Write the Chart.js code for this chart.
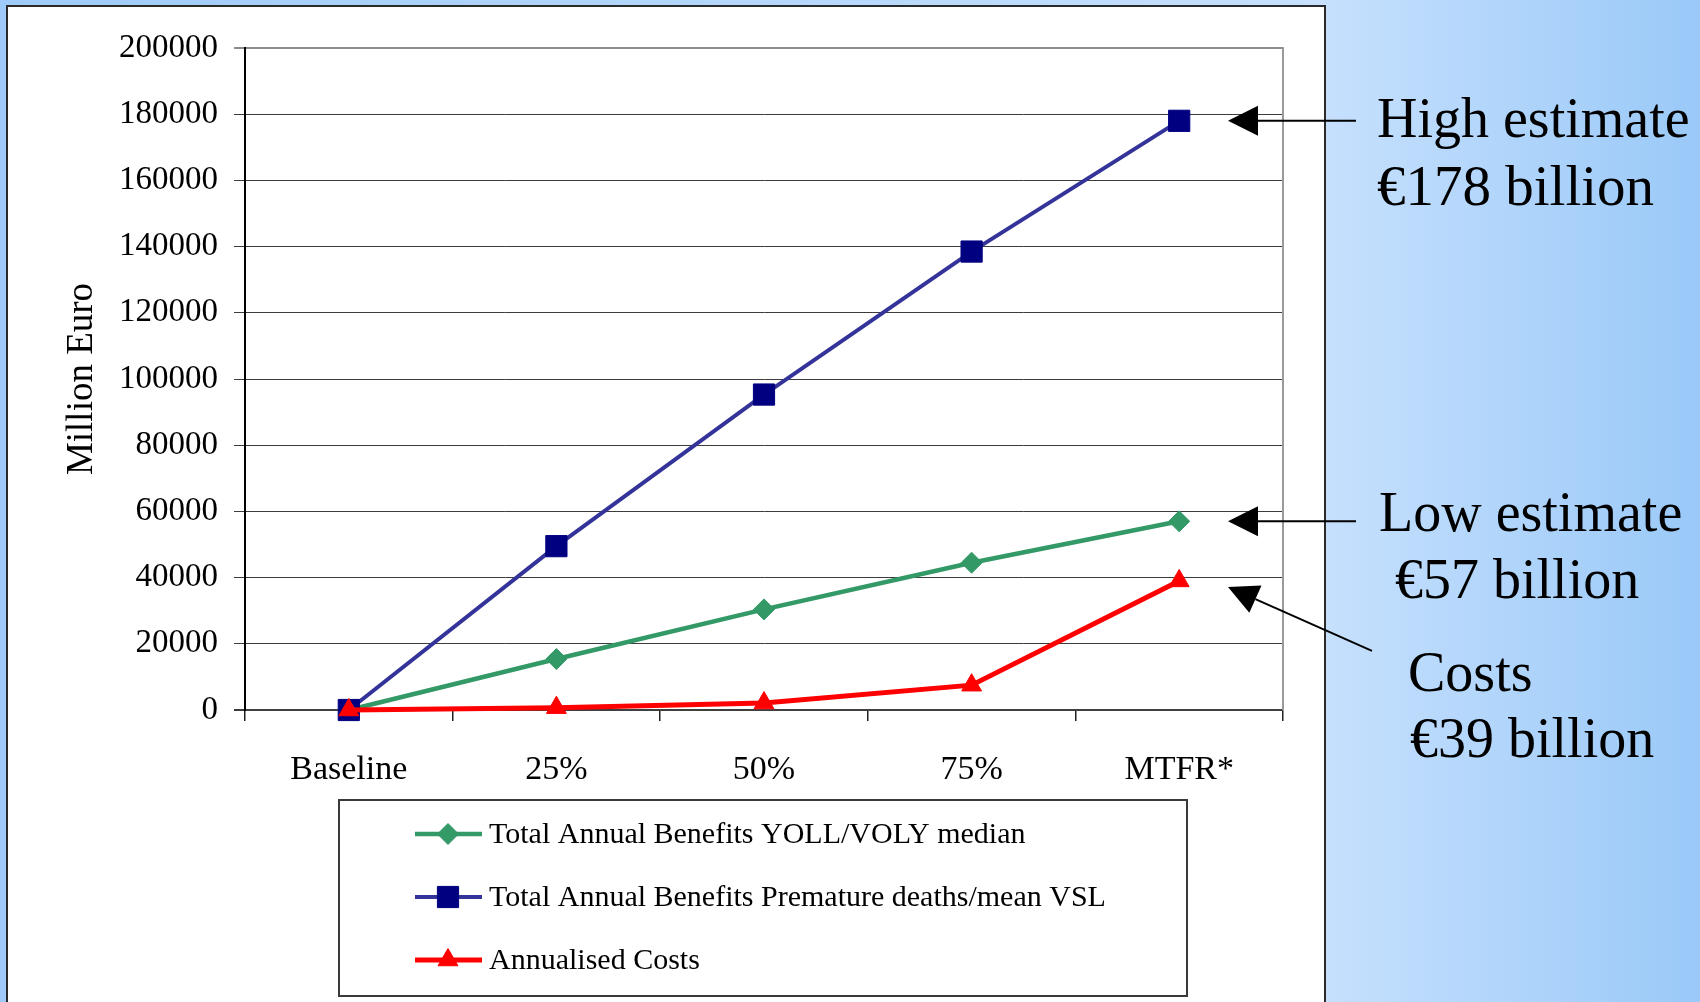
<!DOCTYPE html>
<html>
<head>
<meta charset="utf-8">
<title>Annual benefits and costs</title>
<script src="https://cdn.jsdelivr.net/npm/chart.js@4.4.1/dist/chart.umd.min.js"></script>
<style>
  html, body { margin: 0; padding: 0; width: 1700px; height: 1002px; overflow: hidden; }
  body {
    position: relative;
    background: linear-gradient(to right, #9ecbf9 0%, #c6e0fd 78%, #9ac9f8 100%);
  }
  #panel {
    position: absolute; left: 6px; top: 5px; width: 1320px; height: 1100px;
    background: #fff; border: 2px solid #2a2a2a; box-sizing: border-box;
  }
  #chart { position: absolute; left: 0; top: 0; }
</style>
</head>
<body>
<div id="panel"></div>
<canvas id="chart" width="1700" height="1002"></canvas>
<script>
// Scenario categories along the x axis
const categories = ['Baseline', '25%', '50%', '75%', 'MTFR*'];

// Million euro per year
const benefitsYollVoly = [0, 15400, 30400, 44500, 57000];
const benefitsPrematureVsl = [0, 49500, 95300, 138500, 178000];
const annualisedCosts = [0, 700, 2100, 7500, 39000];

const yTickValues = [0, 20000, 40000, 60000, 80000, 100000, 120000, 140000, 160000, 180000, 200000];

const seriesLabels = [
  'Total Annual Benefits YOLL/VOLY median',
  'Total Annual Benefits Premature deaths/mean VSL',
  'Annualised Costs'
];

// Callouts on the right: text lines and the value each arrow points at
const calloutHigh = { lines: ['High estimate', '\u20AC178 billion'], value: 178000 };
const calloutLow = { lines: ['Low estimate', '\u20AC57 billion'], value: 57000 };
const calloutCosts = { lines: ['Costs', '\u20AC39 billion'], value: 39000 };

const SERIF = "'Liberation Serif', 'Times New Roman', serif";

function arrow(ctx, x0, y0, x1, y1) {
  const dx = x1 - x0, dy = y1 - y0;
  const len = Math.hypot(dx, dy);
  const ux = dx / len, uy = dy / len;
  const headLen = 30, headHalf = 15;
  const bx = x1 - ux * headLen, by = y1 - uy * headLen;
  ctx.save();
  ctx.strokeStyle = '#000';
  ctx.fillStyle = '#000';
  ctx.lineWidth = 2;
  ctx.beginPath();
  ctx.moveTo(x0, y0);
  ctx.lineTo(bx, by);
  ctx.stroke();
  ctx.beginPath();
  ctx.moveTo(x1, y1);
  ctx.lineTo(bx - uy * headHalf, by + ux * headHalf);
  ctx.lineTo(bx + uy * headHalf, by - ux * headHalf);
  ctx.closePath();
  ctx.fill();
  ctx.restore();
}

const frameAndCallouts = {
  id: 'frameAndCallouts',
  beforeDatasetsDraw(chart) {
    const { ctx, chartArea } = chart;
    // right-hand border of the plot area
    ctx.save();
    ctx.strokeStyle = '#9a9a9a';
    ctx.lineWidth = 2;
    ctx.beginPath();
    ctx.moveTo(chartArea.right, chartArea.top - 1);
    ctx.lineTo(chartArea.right, chartArea.bottom);
    ctx.stroke();
    ctx.restore();
  },
  afterDraw(chart) {
    const { ctx, chartArea } = chart;
    const y = chart.scales.y;
    const tipX = chartArea.right - 55;

    // arrows
    const yHigh = y.getPixelForValue(calloutHigh.value);
    arrow(ctx, tipX + 128, yHigh, tipX, yHigh);
    const yLow = y.getPixelForValue(calloutLow.value);
    arrow(ctx, tipX + 128, yLow, tipX, yLow);
    const yCost = y.getPixelForValue(calloutCosts.value) + 6;
    arrow(ctx, tipX + 144, yCost + 64, tipX, yCost);

    // callout text
    ctx.save();
    ctx.fillStyle = '#000';
    ctx.textAlign = 'left';
    ctx.textBaseline = 'alphabetic';
    const R = chartArea.right;
    ctx.font = '56px ' + SERIF;
    ctx.fillText(calloutHigh.lines[0], R + 94, 137);
    ctx.font = '57px ' + SERIF;
    ctx.fillText(calloutHigh.lines[1], R + 94, 205);
    ctx.font = '56px ' + SERIF;
    ctx.fillText(calloutLow.lines[0], R + 96, 531);
    ctx.fillText(calloutLow.lines[1], R + 112, 598);
    ctx.fillText(calloutCosts.lines[0], R + 125, 691);
    ctx.fillText(calloutCosts.lines[1], R + 127, 757);
    ctx.restore();

    // legend box
    const box = { left: 339, top: 800, right: 1187, bottom: 996 };
    ctx.save();
    ctx.fillStyle = '#fff';
    ctx.fillRect(box.left, box.top, box.right - box.left, box.bottom - box.top);
    ctx.strokeStyle = '#3a3a3a';
    ctx.lineWidth = 2;
    ctx.strokeRect(box.left, box.top, box.right - box.left, box.bottom - box.top);
    const rowY = [834, 897, 960];
    chart.data.datasets.forEach((ds, i) => {
      const yy = rowY[i];
      ctx.strokeStyle = ds.borderColor;
      ctx.lineWidth = ds.borderWidth;
      ctx.beginPath();
      ctx.moveTo(415, yy);
      ctx.lineTo(482, yy);
      ctx.stroke();
      ctx.fillStyle = ds.pointBackgroundColor;
      ctx.strokeStyle = ds.pointBorderColor;
      ctx.lineWidth = 1;
      Chart.helpers.drawPoint(ctx, { pointStyle: ds.pointStyle, radius: ds.pointRadius, rotation: 0, borderWidth: 1 }, 448, yy);
      ctx.fillStyle = '#000';
      ctx.font = '30px ' + SERIF;
      ctx.textAlign = 'left';
      ctx.textBaseline = 'middle';
      ctx.fillText(ds.label, 489, yy + 1);
    });
    ctx.restore();
  }
};

new Chart(document.getElementById('chart'), {
  type: 'line',
  data: {
    labels: categories,
    datasets: [
      {
        label: seriesLabels[0],
        data: benefitsYollVoly,
        borderColor: '#339966',
        borderWidth: 4.5,
        pointStyle: 'rectRot',
        pointRadius: 10.5,
        pointBackgroundColor: '#339966',
        pointBorderColor: '#339966',
        pointBorderWidth: 1,
        order: 2
      },
      {
        label: seriesLabels[1],
        data: benefitsPrematureVsl,
        borderColor: '#333399',
        borderWidth: 4,
        pointStyle: 'rect',
        pointRadius: 15,
        pointBackgroundColor: '#000080',
        pointBorderColor: '#000080',
        pointBorderWidth: 1,
        order: 1
      },
      {
        label: seriesLabels[2],
        data: annualisedCosts,
        borderColor: '#ff0000',
        borderWidth: 5,
        pointStyle: 'triangle',
        pointRadius: 11.5,
        pointBackgroundColor: '#ff0000',
        pointBorderColor: '#ff0000',
        pointBorderWidth: 1,
        order: 0
      }
    ]
  },
  options: {
    responsive: false,
    animation: false,
    devicePixelRatio: 1,
    clip: false,
    layout: { padding: { top: 48, right: 417, left: 0, bottom: 0 } },
    elements: { line: { tension: 0 } },
    plugins: { legend: { display: false }, tooltip: { enabled: false } },
    scales: {
      x: {
        type: 'category',
        offset: true,
        grid: { offset: true, drawOnChartArea: false, drawTicks: true, tickLength: 11, color: '#222', lineWidth: 1.5 },
        border: { display: true, color: '#404040', width: 2 },
        ticks: { color: '#000', font: { family: SERIF, size: 34 }, padding: 29, maxRotation: 0, autoSkip: false },
        afterFit: (s) => { s.height = 292; }
      },
      y: {
        min: 0,
        max: 200000,
        afterBuildTicks: (s) => { s.ticks = yTickValues.map(v => ({ value: v })); },
        grid: {
          tickLength: 11,
          color: (c) => c.tick && c.tick.value === 200000 ? '#8c8c8c' : '#3c3c3c',
          lineWidth: (c) => c.tick && (c.tick.value === 200000 || c.tick.value === 0) ? 2 : 1
        },
        border: { display: true, color: '#000', width: 2 },
        ticks: { color: '#000', font: { family: SERIF, size: 33 }, padding: 16, callback: (v) => String(v) },
        title: { display: true, text: 'Million Euro', color: '#000', font: { family: SERIF, size: 37 }, padding: { top: 60, bottom: 0 } },
        afterFit: (s) => { s.width = 245; }
      }
    }
  },
  plugins: [frameAndCallouts]
});
</script>
</body>
</html>
